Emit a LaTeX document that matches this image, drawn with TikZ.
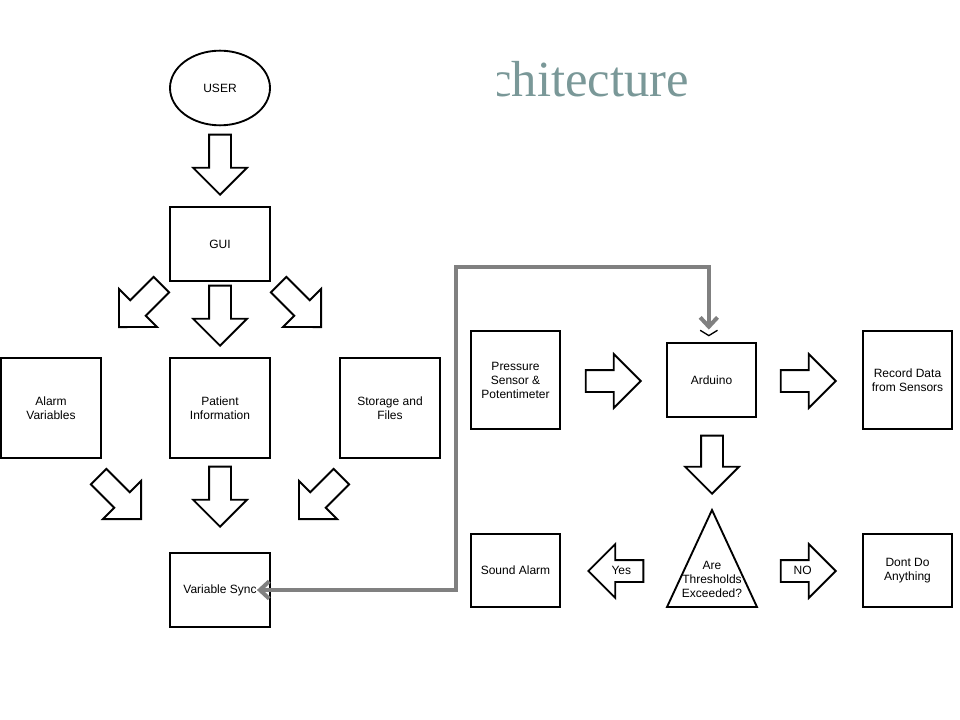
\documentclass[tikz,border=0pt]{standalone}
\usepackage{fontspec}
\setmainfont{Liberation Sans}
\newfontfamily\titlefont{Liberation Serif}
\usetikzlibrary{shapes,arrows.meta,positioning}
\definecolor{titlegray}{RGB}{122,152,152}
\definecolor{linkgray}{RGB}{128,128,128}

\begin{document}
\begin{tikzpicture}[x=0.75pt,y=-0.75pt,font=\fontsize{9}{10.5}\selectfont]
  \tikzstyle{box} = [draw,rectangle,line width=1.4pt,align=center,minimum width=75pt,minimum height=75pt,inner sep=2pt]
  \tikzstyle{sbox} = [box,minimum width=66.75pt,minimum height=55pt]
  \tikzstyle{blk} = [draw,single arrow,line width=1.4pt,single arrow head extend=12pt,
    minimum height=45pt,inner xsep=2pt,inner ysep=3.5pt,text height=6.5pt,text depth=1.5pt]
  \tikzstyle{link} = [linkgray,line width=3pt]
  \useasboundingbox (0,0) rectangle (960,720);
  % title, cut at the left
  \begin{scope}
    \clip (497,40) rectangle (720,120);
    \node (title) [anchor=base west,inner sep=0,text=titlegray,font=\titlefont\fontsize{38}{40}\selectfont] at (489,97) {chitecture};
  \end{scope}
  % left part
  \node (user) [draw,ellipse,line width=1.4pt,minimum width=75pt,minimum height=56pt] at (220,88) {USER};
  \node (gui) [box,minimum height=55.5pt] at (220,244) {GUI};
  \node (alarm) [box] at (51,408) {Alarm\\Variables};
  \node (patient) [box] at (220,408) {Patient\\Information};
  \node (storage) [box] at (390,408) {Storage and\\Files};
  \node (sync) [box,minimum height=56pt] at (220,590) {Variable Sync};
  \node (a1) [blk,rotate=-90,anchor=tip] at (220,196) {};
  \node (a2) [blk,rotate=-135,anchor=tip] at (118,328) {};
  \node (a3) [blk,rotate=-90,anchor=tip] at (220,347) {};
  \node (a4) [blk,rotate=-45,anchor=tip] at (322,328) {};
  \node (a5) [blk,rotate=-45,anchor=tip] at (142,520) {};
  \node (a6) [blk,rotate=-90,anchor=tip] at (220,528) {};
  \node (a7) [blk,rotate=-135,anchor=tip] at (298,520) {};
  % right part
  \node (sensor) [box,minimum width=66.75pt,minimum height=73.5pt] at (515.5,380) {Pressure\\Sensor \&\\Potentimeter};
  \node (arduino) [sbox] at (711.5,380) {Arduino};
  \node (record) [box,minimum width=66.75pt,minimum height=73.5pt] at (907.5,380) {Record Data\\from Sensors};
  \node (sound) [sbox] at (515.5,570.5) {Sound Alarm};
  \node (nothing) [sbox] at (907.5,570.5) {Dont Do\\Anything};
  \node (thresh) [align=center,inner sep=0] at (712,579) {Are\\Thresholds\\Exceeded?};
  \draw [line width=1.4pt,line join=miter] (712,510) -- (757,607) -- (667,607) -- cycle;
  \node (a8) [blk,minimum height=41.25pt,anchor=tip] at (642,381) {};
  \node (a9) [blk,minimum height=41.25pt,anchor=tip] at (837,381) {};
  \node (a10) [blk,minimum height=43.5pt,rotate=-90,anchor=tip] at (712,495) {};
  \node (yes) [blk,minimum height=41.25pt,shape border rotate=180,anchor=tip] at (587,571) {Yes};
  \node (no) [blk,minimum height=41.25pt,anchor=tip] at (837,571) {NO};
  % feedback line
  \draw [link,{Straight Barb[black,line width=1pt,length=4pt,width=13pt] . Straight Barb[length=7pt,width=13pt]}-{Straight Barb[length=7pt,width=13pt]}]
    ([xshift=-2pt,yshift=4.5pt]arduino.north) |- (456,267) |- ([xshift=-10.5pt]sync.east);
\end{tikzpicture}
\end{document}
